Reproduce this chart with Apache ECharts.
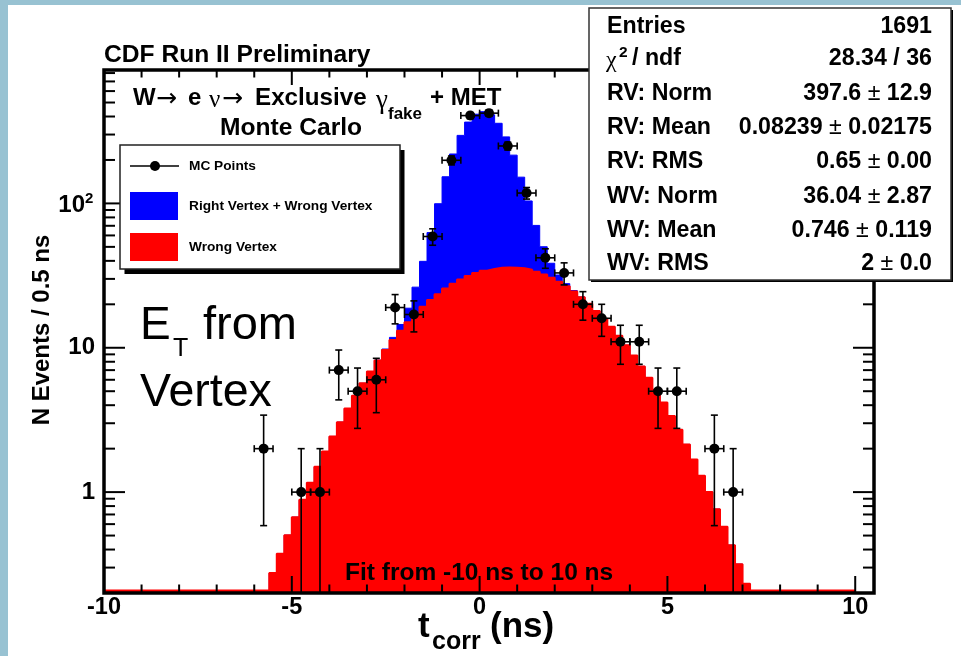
<!DOCTYPE html>
<html>
<head>
<meta charset="utf-8">
<title>t_corr distribution</title>
<script src="https://cdn.jsdelivr.net/npm/echarts@6.0.0/dist/echarts.min.js"></script>
<style>
  html, body { margin: 0; padding: 0; background: #98c2d2; }
  #chart { width: 961px; height: 656px; }
</style>
</head>
<body>
<div id="chart"></div>
<script>
// MC points: 0.5 ns bins, centre (ns) and event count
const binCenters = [-5.75, -4.75, -4.25, -3.75, -3.25, -2.75, -2.25, -1.75, -1.25, -0.75, -0.25, 0.25,
                    0.75, 1.25, 1.75, 2.25, 2.75, 3.25, 3.75, 4.25, 4.75, 5.25, 6.25, 6.75];
const mcCounts   = [2, 1, 1, 7, 5, 6, 19, 17, 59, 199, 406, 422,
                    250, 118, 42, 33, 20, 16, 11, 11, 5, 5, 2, 1];
const binHalfWidth = 0.25;

// Fit curves in 0.2 ns steps, step centres -5.7 ... 7.3 ns
const wrongVertexFit = [
  0.200, 0.275, 0.374, 0.503, 0.670, 0.885, 1.16, 1.50, 1.91, 2.43,
  3.05, 3.79, 4.66, 5.67, 6.84, 8.17, 9.66, 11.3, 13.1, 15.0,
  17.1, 19.2, 21.4, 23.5, 25.7, 27.8, 29.7, 31.4, 33.0, 34.2,
  35.2, 35.8, 36.0, 35.9, 35.5, 34.7, 33.6, 32.2, 30.5, 28.7,
  26.7, 24.5, 22.4, 20.2, 18.0, 15.9, 14.0, 12.1, 10.4, 8.83,
  7.43, 6.19, 5.11, 4.17, 3.37, 2.70, 2.14, 1.68, 1.30, 1.00,
  0.762, 0.575, 0.429, 0.317, 0.232, 0.168
];
const rightPlusWrongFit = [
  0.200, 0.275, 0.374, 0.503, 0.670, 0.885, 1.16, 1.50, 1.91, 2.43,
  3.05, 3.79, 4.66, 5.67, 6.84, 8.21, 9.80, 11.8, 14.5, 18.8,
  26.3, 39.7, 62.8, 99.5, 153, 220, 296, 366, 415, 432,
  411, 359, 289, 216, 152, 104, 70.4, 50.1, 38.5, 31.9,
  27.8, 24.9, 22.5, 20.2, 18.0, 15.9, 14.0, 12.1, 10.4, 8.83,
  7.43, 6.19, 5.11, 4.17, 3.37, 2.70, 2.14, 1.68, 1.30, 1.00,
  0.762, 0.575, 0.429, 0.317, 0.232, 0.168
];
const FIT_FIRST_EDGE = -5.8;
const FIT_STEP = 0.2;
const FIT_RANGE = [-10, 10];
const FIT_FLOOR = 0.208;

// axis ticks and labels
const xMajorTicks = [-10, -5, 0, 5, 10];
const xTickLabels = ['-10', '-5', '0', '5', '10'];
const yMajorTicks = [1, 10, 100];
const yTickLabels = ['1', '10', '10'];
const yTickExponent = ['', '', '2'];

// fit statistics box
const statNames  = ['Entries', '', 'RV: Norm', 'RV: Mean', 'RV: RMS', 'WV: Norm', 'WV: Mean', 'WV: RMS'];
const statValues = [['1691'], ['28.34 / 36'], ['397.6', '12.9'], ['0.08239', '0.02175'], ['0.65', '0.00'],
                    ['36.04', '2.87'], ['0.746', '0.119'], ['2', '0.0']];

const FONT = '"Liberation Sans", Arial, Helvetica, sans-serif';
const SERIF = '"Liberation Serif", "Times New Roman", serif';

function fitSteps(values) {
  const pts = [[FIT_RANGE[0], FIT_FLOOR]];
  values.forEach((v, i) => pts.push([FIT_FIRST_EDGE + i * FIT_STEP, Math.max(v, FIT_FLOOR)]));
  pts.push([FIT_FIRST_EDGE + values.length * FIT_STEP, FIT_FLOOR]);
  pts.push([FIT_RANGE[1], FIT_FLOOR]);
  return pts;
}

function errorBars(params, api) {
  const x = api.value(0), n = api.value(1), err = Math.sqrt(n);
  const c = api.coord([x, n]);
  const cx = c[0], cy = c[1];
  const cs = params.coordSys;
  const bottom = cs.y + cs.height;
  const yHi = api.coord([x, n + err])[1];
  const hasLow = n - err > 0;
  const yLo = hasLow ? api.coord([x, n - err])[1] : bottom;
  const xL = api.coord([x - binHalfWidth, n])[0];
  const xR = api.coord([x + binHalfWidth, n])[0];
  const st = { stroke: '#000', lineWidth: 1.6 };
  const L = (x1, y1, x2, y2) => ({ type: 'line', shape: { x1, y1, x2, y2 }, style: st });
  const kids = [
    L(cx, yHi, cx, yLo), L(cx - 3.5, yHi, cx + 3.5, yHi),
    L(xL, cy, xR, cy), L(xL, cy - 3.5, xL, cy + 3.5), L(xR, cy - 3.5, xR, cy + 3.5)
  ];
  if (hasLow) kids.push(L(cx - 3.5, yLo, cx + 3.5, yLo));
  kids.push({ type: 'circle', shape: { cx, cy, r: 5 }, style: { fill: '#000' } });
  return { type: 'group', children: kids };
}

const chart = echarts.init(document.getElementById('chart'), null, { width: 961, height: 656 });

const hiddenAxis = {
  axisLine: { show: false }, axisTick: { show: false },
  axisLabel: { show: false }, splitLine: { show: false }
};

chart.setOption({
  animation: false,
  backgroundColor: '#98c2d2',
  grid: { left: 104, right: 87, top: 70, bottom: 63, show: false },
  xAxis: Object.assign({ type: 'value', min: -10, max: 10.5 }, hiddenAxis),
  yAxis: Object.assign({ type: 'log', logBase: 10, min: 0.2, max: 840 }, hiddenAxis),
  series: [
    {
      type: 'line', name: 'Right Vertex + Wrong Vertex', data: fitSteps(rightPlusWrongFit),
      step: 'end', symbol: 'none', silent: true, z: 2,
      lineStyle: { color: '#0000ff', width: 1 },
      areaStyle: { color: '#0000ff', opacity: 1, origin: 'start' }
    },
    {
      type: 'line', name: 'Wrong Vertex', data: fitSteps(wrongVertexFit),
      step: 'end', symbol: 'none', silent: true, z: 3,
      lineStyle: { color: '#ff0000', width: 2 },
      areaStyle: { color: '#ff0000', opacity: 1, origin: 'start' }
    },
    {
      type: 'custom', name: 'MC Points', z: 4, clip: true,
      data: binCenters.map((x, i) => [x, mcCounts[i]]),
      encode: { x: 0, y: 1 },
      renderItem: errorBars
    }
  ]
});

// ---- frame, ticks, labels and boxes ----
const P = (x, y) => chart.convertToPixel({ gridIndex: 0 }, [x, y]);
const [fx0, fy0] = P(-10, 840);
const [fx1, fy1] = P(10.5, 0.2);

const g = [];
const line = (x1, y1, x2, y2, w, z) => g.push({
  type: 'line', z: z || 50, shape: { x1, y1, x2, y2 }, style: { stroke: '#000', lineWidth: w || 2 }
});
const text = (x, y, s, size, o) => {
  o = o || {};
  g.push({
    type: 'text', x, y, z: o.z || 60, rotation: o.rotation || 0,
    style: {
      text: s, fill: '#000', fontSize: size, fontWeight: o.weight || 'bold',
      fontFamily: o.family || FONT, align: o.align || 'left', verticalAlign: 'middle',
      rich: o.rich
    }
  });
};

// white page area
g.push({ type: 'rect', z: 0, shape: { x: 8, y: 5, width: 953, height: 651 }, style: { fill: '#fff' } });

// frame
g.push({
  type: 'rect', z: 50,
  shape: { x: fx0, y: fy0, width: fx1 - fx0, height: fy1 - fy0 },
  style: { fill: 'none', stroke: '#000', lineWidth: 3.5 }
});

// x ticks (bottom and top)
for (let v = -10; v <= 10; v++) {
  const major = xMajorTicks.indexOf(v) >= 0;
  const px = P(v, 1)[0];
  line(px, fy1, px, fy1 - (major ? 17 : 8.5));
  line(px, fy0, px, fy0 + (major ? 15 : 7.5));
}
xMajorTicks.forEach((v, i) => text(P(v, 1)[0], 607.5, xTickLabels[i], 23.5, { align: 'center' }));

// y ticks (left and right), log decades
for (let d = 0.1; d < 1000; d *= 10) {
  for (let m = 1; m <= 9; m++) {
    const v = +(m * d).toPrecision(3);
    if (v <= 0.2 || v >= 840) continue;
    const py = P(0, v)[1];
    const len = m === 1 ? 21 : 11;
    line(fx0, py, fx0 + len, py);
    line(fx1, py, fx1 - len, py);
  }
}
yMajorTicks.forEach((v, i) => {
  const py = P(0, v)[1];
  if (yTickExponent[i]) {
    text(85, py + 1.5, yTickLabels[i], 24, { align: 'right' });
    text(85, py - 5, yTickExponent[i], 15, { align: 'left' });
  } else {
    text(95, py, yTickLabels[i], 24, { align: 'right' });
  }
});

// axis titles
text(42, 330, 'N Events / 0.5 ns', 24, { align: 'center', rotation: Math.PI / 2 });
text(418, 627.5, 't', 35);
text(432, 642, 'corr', 25);
text(490, 627, '(ns)', 35);

// headings inside the plot
text(104, 55.3, 'CDF Run II Preliminary', 24.6);
text(133, 98.3, 'W', 24);
text(156, 99, '\u2192', 25, { weight: 'normal', family: '"DejaVu Sans", sans-serif' });
text(188, 98.3, 'e', 24);
text(209, 100, '\u03bd', 25, { weight: 'normal', family: SERIF });
text(222, 99, '\u2192', 25, { weight: 'normal', family: '"DejaVu Sans", sans-serif' });
text(255, 98.3, 'Exclusive', 24.2);
text(376, 101, '\u03b3', 27, { weight: 'normal', family: SERIF });
text(388, 114.7, 'fake', 17);
text(430, 98.3, '+ MET', 24);
text(220, 128, 'Monte Carlo', 24.6);

text(140, 326, 'E', 46, { weight: 'normal' });
text(173, 349, 'T', 25, { weight: 'normal' });
text(203, 326, 'from', 47, { weight: 'normal' });
text(140, 393, 'Vertex', 46.5, { weight: 'normal' });

text(345, 573, 'Fit from -10 ns to 10 ns', 24.5);

// legend box
g.push({ type: 'rect', z: 70, shape: { x: 124.5, y: 150, width: 280, height: 124 }, style: { fill: '#000' } });
g.push({ type: 'rect', z: 71, shape: { x: 120, y: 145, width: 280, height: 124 }, style: { fill: '#fff', stroke: '#222', lineWidth: 1.5 } });
line(130, 166, 179, 166, 1.6, 72);
g.push({ type: 'circle', z: 72, shape: { cx: 155, cy: 166, r: 5 }, style: { fill: '#000' } });
g.push({ type: 'rect', z: 72, shape: { x: 130, y: 192, width: 48, height: 28 }, style: { fill: '#0000ff' } });
g.push({ type: 'rect', z: 72, shape: { x: 130, y: 233, width: 48, height: 28 }, style: { fill: '#ff0000' } });
text(189, 166, 'MC Points', 13.7, { z: 73 });
text(189, 206, 'Right Vertex + Wrong Vertex', 13.7, { z: 73 });
text(189, 247, 'Wrong Vertex', 13.7, { z: 73 });

// statistics box
g.push({ type: 'rect', z: 80, shape: { x: 591, y: 10, width: 362, height: 272 }, style: { fill: '#000' } });
g.push({ type: 'rect', z: 81, shape: { x: 589, y: 8, width: 362, height: 272 }, style: { fill: '#fff', stroke: '#333', lineWidth: 1.5 } });
const rowY = [27, 59, 94, 128, 162, 196.5, 230.5, 264];
const STAT_SIZE = 23.2;
const richStat = {
  b: { fontSize: STAT_SIZE, fontWeight: 'bold', fontFamily: FONT },
  p: { fontSize: STAT_SIZE, fontWeight: 'normal', fontFamily: FONT }
};
statNames.forEach((name, i) => {
  if (name) text(607, rowY[i], name, STAT_SIZE, { z: 82 });
  const v = statValues[i];
  const s = v.length === 2 ? `{b|${v[0]} }{p|\u00b1}{b| ${v[1]}}` : `{b|${v[0]}}`;
  text(932, rowY[i], s, STAT_SIZE, { z: 82, align: 'right', rich: richStat });
});
text(606, 61, '\u03c7', 24, { z: 82, weight: 'normal', family: SERIF });
text(619, 53, '2', 15.5, { z: 82 });
text(632, 59, '/ ndf', STAT_SIZE, { z: 82 });

chart.setOption({ graphic: { elements: g } });
</script>
</body>
</html>
